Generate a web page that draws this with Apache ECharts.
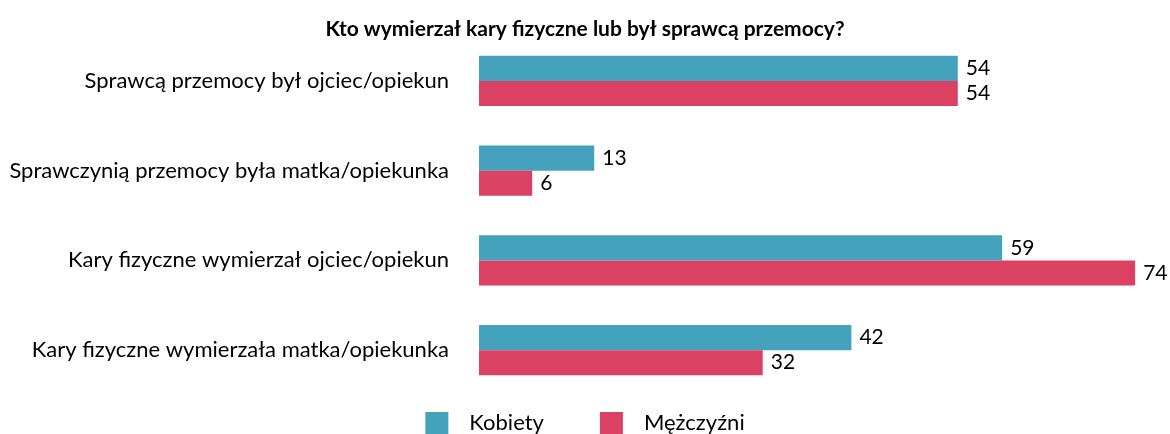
<!DOCTYPE html>
<html>
<head>
<meta charset="utf-8" />
<script src="https://cdn.jsdelivr.net/npm/echarts@6/dist/echarts.min.js"></script>
<title>Kto wymierzał kary fizyczne</title>
<style>
html, body { margin: 0; padding: 0; background: #fff; }
#chart { width: 1170px; height: 434px; }
</style>
</head>
<body>
<div id="chart"></div>
<script>
// dane
var categories = [
    'Sprawcą przemocy był ojciec/opiekun',
    'Sprawczynią przemocy była matka/opiekunka',
    'Kary fizyczne wymierzał ojciec/opiekun',
    'Kary fizyczne wymierzała matka/opiekunka'
];
var kobiety = [54, 13, 59, 42];
var mezczyzni = [54, 6, 74, 32];

var font = 'Lato, "Open Sans", sans-serif';

var myChart = echarts.init(document.getElementById('chart'));
var option = {
    backgroundColor: '#fff',
    animation: false,
    title: {
        text: 'Kto wymierzał kary fizyczne lub był sprawcą przemocy?',
        left: 'center',
        top: 14,
        textStyle: { fontFamily: font, fontSize: 21, fontWeight: 'bold', color: '#000' }
    },
    legend: {
        bottom: -5,
        left: 'center',
        itemWidth: 23,
        itemHeight: 22,
        itemGap: 56,
        icon: 'rect',
        textStyle: { fontFamily: font, fontSize: 22, color: '#000', padding: [0, 0, 0, 16] },
        data: ['Kobiety', 'Mężczyźni']
    },
    grid: { left: 479, right: 26, top: 36, bottom: 39 },
    xAxis: {
        type: 'value',
        min: 0,
        max: 75,
        show: false
    },
    yAxis: {
        type: 'category',
        inverse: true,
        data: categories,
        axisLine: { show: false },
        axisTick: { show: false },
        axisLabel: { fontFamily: font, fontSize: 22, color: '#000', margin: 30 }
    },
    series: [
        {
            name: 'Kobiety',
            type: 'bar',
            data: kobiety,
            barGap: 0,
            barCategoryGap: '44%',
            itemStyle: { color: '#44A2BC' },
            label: { show: true, position: 'right', distance: 8, fontFamily: font, fontSize: 21, color: '#000' }
        },
        {
            name: 'Mężczyźni',
            type: 'bar',
            data: mezczyzni,
            itemStyle: { color: '#DB4162' },
            label: { show: true, position: 'right', distance: 8, fontFamily: font, fontSize: 21, color: '#000' }
        }
    ]
};
myChart.setOption(option);
</script>
</body>
</html>
